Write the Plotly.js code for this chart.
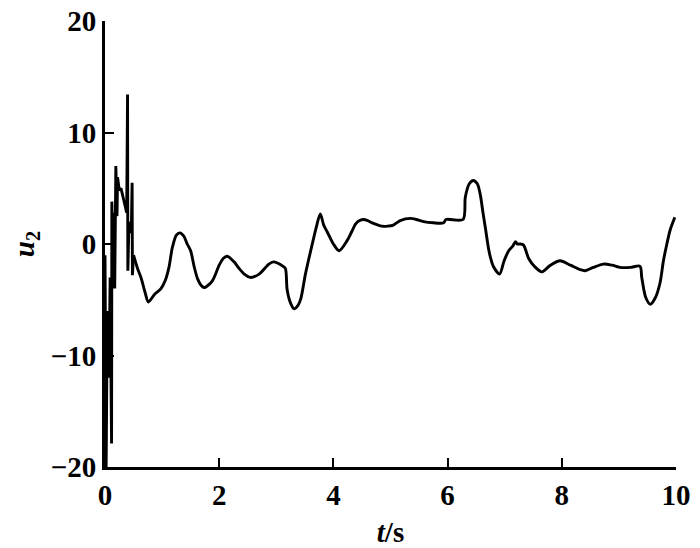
<!DOCTYPE html>
<html>
<head>
<meta charset="utf-8">
<script src="https://cdn.plot.ly/plotly-3.0.1.min.js"></script>
<style>html,body{margin:0;padding:0;background:#fff;}#chart{width:700px;height:548px;}</style>
</head>
<body>
<div id="chart"></div>
<script>
var timeS = [0, 0.02, 0.04, 0.07, 0.09, 0.115, 0.12, 0.14, 0.16, 0.17, 0.19, 0.21, 0.22, 0.25, 0.28, 0.33, 0.38, 0.395, 0.40, 0.42, 0.46, 0.475, 0.48, 0.50, 0.57, 0.63, 0.70, 0.76, 0.87, 0.98, 1.06, 1.12, 1.18, 1.25, 1.31, 1.38, 1.44, 1.50, 1.56, 1.62, 1.70, 1.75, 1.88, 2.00, 2.07, 2.14, 2.26, 2.35, 2.44, 2.55, 2.70, 2.87, 2.95, 3.02, 3.12, 3.16, 3.19, 3.25, 3.31, 3.38, 3.43, 3.51, 3.63, 3.70, 3.77, 3.83, 3.89, 4.00, 4.10, 4.24, 4.32, 4.39, 4.46, 4.53, 4.60, 4.68, 4.85, 4.95, 5.05, 5.17, 5.35, 5.45, 5.58, 5.75, 5.93, 5.97, 6.27, 6.31, 6.38, 6.45, 6.52, 6.57, 6.62, 6.66, 6.72, 6.75, 6.80, 6.91, 6.99, 7.07, 7.14, 7.19, 7.22, 7.27, 7.33, 7.42, 7.52, 7.65, 7.80, 7.97, 8.15, 8.32, 8.41, 8.55, 8.73, 8.88, 9.02, 9.20, 9.37, 9.40, 9.47, 9.55, 9.64, 9.72, 9.78, 9.84, 9.90, 9.98];
var u2 = [-1, -20, -6, -12, -3, -17.9, 3.8, -1.5, 2.8, -4.0, 7.0, 2.5, 6.0, 4.8, 5.0, 4.0, 2.8, 13.4, -2.4, 2.0, 1.0, 5.5, -2.8, -1.0, -2.2, -3.0, -4.3, -5.2, -4.5, -4.0, -3.2, -2.1, -0.3, 0.8, 1.0, 0.7, 0.0, -0.6, -2.0, -3.1, -3.8, -3.9, -3.3, -1.9, -1.3, -1.1, -1.6, -2.2, -2.7, -3.0, -2.7, -1.8, -1.6, -1.7, -2.0, -2.2, -4.1, -5.3, -5.8, -5.5, -4.9, -2.7, 0.0, 1.5, 2.7, 1.7, 1.1, 0.0, -0.6, 0.3, 1.1, 1.8, 2.1, 2.2, 2.1, 1.9, 1.6, 1.6, 1.7, 2.1, 2.3, 2.2, 2.0, 1.9, 1.9, 2.2, 2.2, 4.2, 5.4, 5.7, 5.4, 4.5, 2.8, 1.5, -0.5, -1.2, -2.0, -2.7, -1.5, -0.6, -0.2, 0.2, 0.0, 0.0, -0.1, -1.3, -2.0, -2.5, -1.9, -1.5, -1.9, -2.3, -2.4, -2.1, -1.8, -1.9, -2.1, -2.1, -2.0, -3.0, -4.8, -5.4, -4.8, -3.5, -1.5, 0.0, 1.3, 2.4];
var xTicks = [0, 2, 4, 6, 8, 10];
var yTicks = [-20, -10, 0, 10, 20];

// the first samples are a fast oscillating transient (straight segments);
// the rest of the response is drawn as a smooth curve
var transientEnd = 23;

var fontFam = '"Liberation Serif", "Times New Roman", serif';
var lineStyle = {color: '#000', width: 2.9};
var traceTransient = {
  x: timeS.slice(0, transientEnd + 1), y: u2.slice(0, transientEnd + 1),
  type: 'scatter', mode: 'lines', line: Object.assign({}, lineStyle, {shape: 'linear'}), hoverinfo: 'skip'
};
var traceSmooth = {
  x: timeS.slice(transientEnd), y: u2.slice(transientEnd),
  type: 'scatter', mode: 'lines', line: Object.assign({}, lineStyle, {shape: 'spline', smoothing: 0.8}), hoverinfo: 'skip'
};
var axisCommon = {
  showgrid: false, zeroline: false, showline: true, linecolor: '#000', linewidth: 3,
  ticks: 'inside', ticklen: 9, tickwidth: 2, tickcolor: '#000',
  tickfont: {family: fontFam, size: 29, color: '#000', weight: 'bold'}
};
var layout = {
  width: 700, height: 548,
  margin: {l: 105, r: 24, t: 21, b: 81},
  paper_bgcolor: '#fff', plot_bgcolor: '#fff',
  showlegend: false,
  xaxis: Object.assign({}, axisCommon, {
    range: [0, 10], tickvals: xTicks, ticktext: xTicks.map(String),
    title: {text: '<i>t</i>/s', font: {family: fontFam, size: 29, color: '#000', weight: 'bold'}, standoff: 26}
  }),
  yaxis: Object.assign({}, axisCommon, {
    range: [-20, 20], tickvals: yTicks, ticktext: yTicks.map(function(v){return v < 0 ? '\u2212' + Math.abs(v) : String(v);}),
    title: {text: '<i>u</i><sub>2</sub>', font: {family: fontFam, size: 29, color: '#000', weight: 'bold'}, standoff: 8}
  })
};
Plotly.newPlot('chart', [traceTransient, traceSmooth], layout, {displayModeBar: false, staticPlot: true});
</script>
</body>
</html>
